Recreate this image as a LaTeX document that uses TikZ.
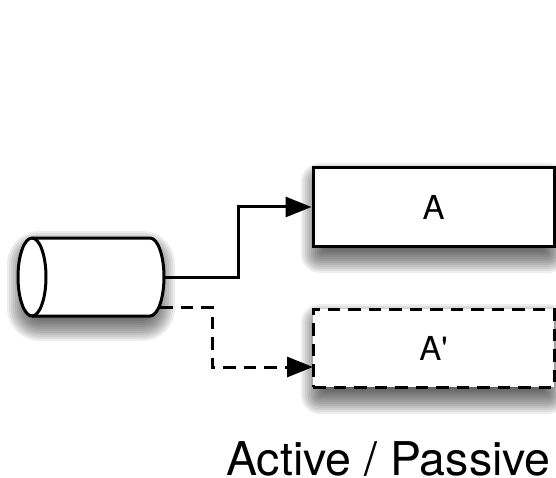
\documentclass[tikz,border=0pt]{standalone}
\usepackage{fontspec}
\setmainfont{TeX Gyre Heros}[Ligatures=TeXOff]
\usetikzlibrary{arrows.meta}
\tikzset{
  px/.style={x=1pt,y=-1pt},
  ln/.style={line width=3pt,draw=black},
  dsh/.style={ln,dash pattern=on 12.5pt off 8pt},
  boxs/.style={fill=white,inner sep=0pt,minimum width=241pt,minimum height=78pt,text=black,font=\fontsize{33}{33}\selectfont},
  tip/.style={-{Triangle[length=26pt,width=20pt]}},
}
\newcommand{\softshadow}[5]{% x1,y1,x2,y2,maxradius
  \foreach \i in {0,...,17}{
    \pgfmathsetmacro{\d}{17-2.0*\i}
    \pgfmathsetmacro{\rr}{max(1,#5+\d)}
    \fill[black,fill opacity=0.065,rounded corners=\rr pt]
      (#1-\d,#2-\d) rectangle (#3+\d,#4+\d);
  }
}
\begin{document}
\begin{tikzpicture}[px]
\useasboundingbox (0,0) rectangle (556,478);
\softshadow{24}{248}{158}{324}{16}
\softshadow{318}{180}{550}{256}{2}
\softshadow{318}{321}{550}{397}{2}
% cylinder drawn directly
\filldraw[ln,fill=white] (32,238) -- (150,238) .. controls (157.7,238) and (164,255.5) .. (164,277)
  .. controls (164,298.5) and (157.7,316) .. (150,316) -- (32,316)
  .. controls (24.3,316) and (18,298.5) .. (18,277) .. controls (18,255.5) and (24.3,238) .. (32,238) -- cycle;
\draw[ln] (32,238) .. controls (39.7,238) and (46,255.5) .. (46,277) .. controls (46,298.5) and (39.7,316) .. (32,316);
\coordinate (cylout) at (164,277);
\coordinate (dashout) at (160,307);
\node[boxs,ln] (a) at (433.5,207) {\raisebox{-1.5pt}{A}};
\node[boxs,dsh] (ap) at (433.5,348) {\raisebox{-1pt}{A'}};
\coordinate (apin) at (313,367);
\coordinate (solidturn) at (238,277);
\coordinate (dashturn) at (212,307);
\draw[ln,tip] (cylout) -- (solidturn) |- (a.west);
\draw[dsh,tip] (dashout) -- (dashturn) |- (apin);
\node[font=\fontsize{46.5}{46.5}\selectfont,anchor=base,text=black,inner sep=0pt] (lbl) at (388.5,475) {Active / Passive};
\end{tikzpicture}
\end{document}
